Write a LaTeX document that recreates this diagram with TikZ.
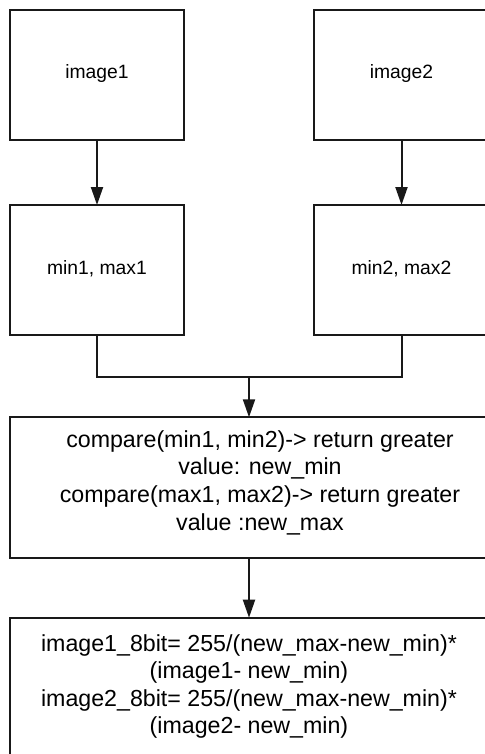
\documentclass[tikz,border=0pt]{standalone}
\usepackage{fontspec}
\setmainfont{Liberation Sans}
\usetikzlibrary{arrows.meta}
\begin{document}
\begin{tikzpicture}[x=1pt,y=-1pt,
  box/.style={draw=black!90, line width=2pt, rectangle, inner sep=0pt, outer sep=0pt},
  small/.style={font=\fontsize{19.3}{23}\selectfont, inner sep=0pt},
  big/.style={font=\fontsize{23.2}{27.6}\selectfont, align=center, inner sep=0pt},
  arr/.style={line width=2pt, draw=black!90, -{Triangle[width=12pt,length=18pt]}},
  line/.style={line width=2pt, draw=black!90}]
\useasboundingbox (0,0) rectangle (484,754);
\fill[white] (0,0) rectangle (484,754);
% top boxes
\node[box, minimum width=174.5pt, minimum height=130pt] (i1) at (97,75) {};
\node[box, minimum width=174.5pt, minimum height=130pt] (i2) at (401.5,75) {};
\node[small] (t1) at (97,73.3) {image1};
\node[small] (t2) at (401.5,73.3) {image2};
% min/max boxes
\node[box, minimum width=174.5pt, minimum height=130pt] (m1) at (97,270) {};
\node[box, minimum width=174.5pt, minimum height=130pt] (m2) at (401.5,270) {};
\node[small] (tm1) at (97,268.3) {min1, max1};
\node[small] (tm2) at (401.5,268.3) {min2, max2};
% compare box
\node[box, minimum width=479pt, minimum height=141pt] (cmp) at (249,487.8) {};
\node[big] (tc) at (260,482.5) {compare(min1, min2)-> return greater\\value: new\_min\\compare(max1, max2)-> return greater\\value :new\_max};
% result box
\node[box, minimum width=479pt, minimum height=170pt] (res) at (249,702.7) {};
\node[big] (tr) at (249,686.5) {image1\_8bit= 255/(new\_max-new\_min)*\\(image1- new\_min)\\image2\_8bit= 255/(new\_max-new\_min)*\\(image2- new\_min)};
% connectors
\draw[arr] (i1) -- (m1);
\draw[arr] (i2) -- (m2);
\coordinate (j) at (249,376.7);
\draw[line] (m1.south) |- (j) -| (m2.south);
\draw[arr] (j) -- (cmp);
\draw[arr] (cmp) -- (res);
\end{tikzpicture}
\end{document}
